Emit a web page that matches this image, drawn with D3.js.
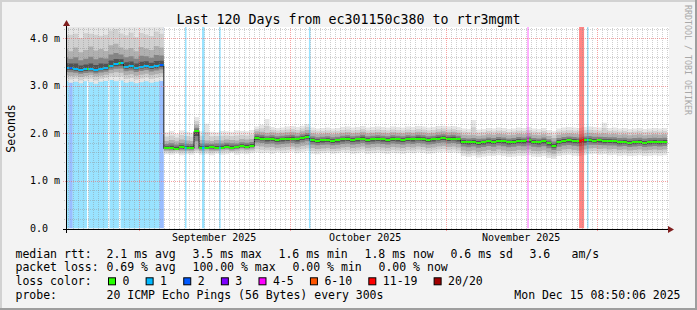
<!DOCTYPE html>
<html>
<head>
<meta charset="utf-8">
<script src="https://cdn.jsdelivr.net/npm/d3@7"></script>
<style>
  html, body { margin: 0; padding: 0; background: #f3f3f3; }
  svg { display: block; font-family: "DejaVu Sans Mono", monospace; }
</style>
</head>
<body>
<div id="chart"></div>
<script>
// time range of the graph
const rangeStart = '2025-08-17 08:50';
const rangeEnd = '2025-12-15 08:50';
const firstDay = '2025-08-17 00:00';

// one value per day (ms)
const median = [
  3.37, 3.38, 3.35, 3.33, 3.34, 3.35, 3.33, 3.36, 3.37, 3.42,
  3.45, 3.47, 3.40, 3.41, 3.38, 3.40, 3.42, 3.39, 3.41, 3.43,
  1.69, 1.70, 1.68, 1.71, 1.69, 1.70, 2.04, 1.69, 1.70, 1.71,
  1.69, 1.70, 1.72, 1.70, 1.71, 1.73, 1.72, 1.74, 1.90, 1.89,
  1.87, 1.88, 1.86, 1.87, 1.88, 1.89, 1.87, 1.90, 1.93, 1.86,
  1.84, 1.85, 1.86, 1.84, 1.85, 1.87, 1.88, 1.86, 1.87, 1.89,
  1.86, 1.87, 1.88, 1.87, 1.86, 1.88, 1.87, 1.86, 1.88, 1.87,
  1.89, 1.88, 1.86, 1.87, 1.89, 1.90, 1.88, 1.89, 1.87, 1.82,
  1.81, 1.82, 1.80, 1.81, 1.83, 1.82, 1.84, 1.83, 1.81, 1.82,
  1.84, 1.83, 1.85, 1.82, 1.81, 1.83, 1.79, 1.74, 1.82, 1.84,
  1.85, 1.84, 1.83, 1.85, 1.86, 1.84, 1.85, 1.83, 1.84, 1.83,
  1.81, 1.82, 1.80, 1.81, 1.82, 1.80, 1.81, 1.82, 1.81, 1.82
];
const smokeMin = [
  3.10, 3.06, 3.08, 3.05, 3.09, 3.07, 3.04, 3.08, 3.10, 3.12,
  3.09, 3.11, 3.06, 3.08, 3.05, 3.07, 3.09, 3.06, 3.08, 3.10,
  1.56, 1.55, 1.57, 1.54, 1.56, 1.55, 1.58, 1.55, 1.56, 1.54,
  1.57, 1.55, 1.56, 1.58, 1.55, 1.57, 1.56, 1.58, 1.60, 1.58,
  1.59, 1.57, 1.60, 1.58, 1.59, 1.61, 1.58, 1.60, 1.62, 1.57,
  1.56, 1.58, 1.59, 1.57, 1.58, 1.60, 1.59, 1.57, 1.58, 1.60,
  1.57, 1.58, 1.59, 1.58, 1.57, 1.59, 1.58, 1.57, 1.59, 1.58,
  1.60, 1.59, 1.57, 1.58, 1.60, 1.61, 1.59, 1.60, 1.58, 1.52,
  1.50, 1.53, 1.49, 1.51, 1.53, 1.52, 1.54, 1.52, 1.50, 1.51,
  1.53, 1.52, 1.54, 1.51, 1.50, 1.52, 1.48, 1.46, 1.52, 1.54,
  1.55, 1.53, 1.52, 1.54, 1.56, 1.57, 1.55, 1.56, 1.54, 1.55,
  1.53, 1.54, 1.52, 1.53, 1.54, 1.52, 1.53, 1.54, 1.53, 1.54
];
const smokeLo = [
  3.22, 3.20, 3.21, 3.18, 3.20, 3.22, 3.19, 3.21, 3.23, 3.26,
  3.28, 3.27, 3.22, 3.24, 3.21, 3.23, 3.25, 3.22, 3.24, 3.26,
  1.63, 1.62, 1.64, 1.62, 1.63, 1.62, 1.66, 1.63, 1.64, 1.62,
  1.63, 1.64, 1.65, 1.63, 1.64, 1.66, 1.65, 1.66, 1.73, 1.72,
  1.70, 1.71, 1.69, 1.70, 1.71, 1.72, 1.70, 1.73, 1.75, 1.69,
  1.67, 1.68, 1.69, 1.67, 1.68, 1.70, 1.71, 1.69, 1.70, 1.72,
  1.69, 1.70, 1.71, 1.70, 1.69, 1.71, 1.70, 1.69, 1.71, 1.70,
  1.72, 1.71, 1.69, 1.70, 1.72, 1.73, 1.71, 1.72, 1.70, 1.64,
  1.62, 1.64, 1.61, 1.63, 1.65, 1.63, 1.66, 1.64, 1.62, 1.63,
  1.65, 1.64, 1.66, 1.63, 1.62, 1.64, 1.60, 1.57, 1.63, 1.66,
  1.67, 1.65, 1.64, 1.66, 1.68, 1.69, 1.67, 1.68, 1.66, 1.67,
  1.65, 1.66, 1.64, 1.65, 1.66, 1.64, 1.65, 1.66, 1.65, 1.66
];
const smokeHi = [
  3.78, 3.72, 3.80, 3.70, 3.75, 3.82, 3.74, 3.77, 3.73, 3.85,
  3.88, 3.80, 3.76, 3.79, 3.72, 3.81, 3.78, 3.75, 3.83, 3.80,
  1.84, 1.86, 1.83, 1.87, 1.85, 1.84, 2.18, 1.86, 1.85, 1.84,
  1.86, 1.85, 1.87, 1.86, 1.85, 1.88, 1.87, 1.88, 2.04, 2.03,
  2.01, 2.02, 2.00, 2.01, 2.02, 2.03, 2.01, 2.04, 2.07, 2.00,
  1.98, 1.99, 2.00, 1.98, 1.99, 2.01, 2.02, 2.00, 2.01, 2.03,
  2.00, 2.01, 2.02, 2.01, 2.00, 2.02, 2.01, 2.00, 2.02, 2.01,
  2.03, 2.02, 2.00, 2.01, 2.03, 2.04, 2.02, 2.03, 2.01, 1.97,
  1.96, 1.97, 1.95, 1.96, 1.98, 1.97, 1.99, 1.98, 1.96, 1.97,
  1.99, 1.98, 2.00, 1.97, 1.96, 1.98, 1.94, 1.90, 1.97, 1.99,
  2.00, 1.99, 1.98, 2.00, 2.01, 2.00, 1.99, 2.00, 1.98, 1.99,
  1.97, 1.98, 1.96, 1.97, 1.98, 1.96, 1.97, 1.98, 1.97, 1.98
];
const smokeMax = [
  4.35, 4.42, 4.38, 4.30, 4.45, 4.36, 4.40, 4.33, 4.41, 4.47,
  4.50, 4.39, 4.36, 4.43, 4.31, 4.40, 4.37, 4.34, 4.44, 4.38,
  2.02, 2.05, 1.99, 2.06, 2.03, 2.01, 2.34, 2.04, 2.20, 2.03,
  2.02, 2.05, 2.04, 2.03, 2.06, 2.05, 2.04, 2.07, 2.14, 2.18,
  2.30, 2.13, 2.11, 2.12, 2.14, 2.15, 2.13, 2.16, 2.19, 2.12,
  2.10, 2.11, 2.12, 2.10, 2.11, 2.13, 2.14, 2.12, 2.13, 2.15,
  2.12, 2.13, 2.14, 2.13, 2.12, 2.14, 2.13, 2.12, 2.14, 2.13,
  2.15, 2.14, 2.12, 2.13, 2.15, 2.16, 2.14, 2.15, 2.13, 2.10,
  2.09, 2.28, 2.08, 2.09, 2.11, 2.10, 2.12, 2.11, 2.09, 2.10,
  2.12, 2.11, 2.13, 2.10, 2.09, 2.11, 2.07, 2.04, 2.10, 2.12,
  2.13, 2.12, 2.11, 2.13, 2.14, 2.13, 2.12, 2.22, 2.11, 2.12,
  2.10, 2.11, 2.09, 2.10, 2.11, 2.09, 2.10, 2.11, 2.10, 2.11
];

// packet loss periods (pings lost of 20)
const lossStart = [
  '2025-08-17 00:00', '2025-08-18 05:00', '2025-08-18 21:00', '2025-08-22 01:00',
  '2025-08-26 05:00', '2025-08-28 10:00', '2025-09-05 03:00', '2025-09-10 05:00',
  '2025-09-13 14:00', '2025-09-17 00:00', '2025-10-04 20:00', '2025-11-17 05:00',
  '2025-11-27 12:00', '2025-11-29 02:00'
];
const lossEnd = [
  '2025-08-18 05:00', '2025-08-18 21:00', '2025-08-21 18:00', '2025-08-25 22:00',
  '2025-08-28 02:00', '2025-09-05 03:00', '2025-09-06 00:00', '2025-09-10 12:00',
  '2025-09-14 02:00', '2025-09-17 07:00', '2025-10-05 03:00', '2025-11-17 12:00',
  '2025-11-28 12:00', '2025-11-29 09:00'
];
const lossCount = [1, 2, 1, 1, 1, 1, 2, 1, 1, 1, 1, 4, 12, 1];
// no smoke recorded during these periods
const lossNoData = [false, false, false, false, false, false, false, true, true, true, true, true, true, true];

const lossLabels = ['0', '1', '2', '3', '4-5', '6-10', '11-19', '20/20'];
const lossColors = ['#26ff00', '#00b8ff', '#0059ff', '#7e00ff', '#ff00ff', '#ff5500', '#ff0000', '#a10000'];
const lossBins = [1, 2, 3, 4, 6, 11, 20];

const yTickValues = [0, 1, 2, 3, 4];
const yTickLabels = ['0.0', '1.0 m', '2.0 m', '3.0 m', '4.0 m'];

const title = 'Last 120 Days from ec301150c380 to rtr3mgmt';
const rttStats = ['2.1 ms avg', '3.5 ms max', '1.6 ms min', '1.8 ms now', '0.6 ms sd', '3.6', 'am/s'];
const lossStats = ['0.69 % avg', '100.00 % max', '0.00 % min', '0.00 % now'];
const probeText = '20 ICMP Echo Pings (56 Bytes) every 300s';
const stampText = 'Mon Dec 15 08:50:06 2025';

/**
 * smokeping style latency chart
 */
class SmokeChart {
  defaultOption() {
    return {
      width: 697,
      height: 310,
      xRange: [65, 669],
      yRange: [228.5, 28.5],
      yMax: 4.2,
      plot: { left: 66.5, right: 669, top: 27, bottom: 228.5 },
      lossOpacity: 0.4,
      smokeColors: ['#e6e6e6', '#d0d0d0', '#b0b0b0', '#848484', '#525252'],
      legendFont: '11.5px',
      axisFont: '10px',
      rttX: [106.5, 192.5, 278.5, 364.5, 450.5, 529.5, 571.5],
      lossX: [106.5, 192.5, 292.5, 378.5],
      lines: [257.5, 271.4, 285.3, 299.2]
    };
  }

  constructor(selector, option) {
    this.config = Object.assign(this.defaultOption(), option || {});
    const { width, height } = this.config;
    this.svg = d3.select(selector).append('svg').attr('width', width).attr('height', height);
    this.defs = this.svg.append('defs');

    const parse = d3.timeParse('%Y-%m-%d %H:%M');
    this.x = d3.scaleTime().domain([parse(rangeStart), parse(rangeEnd)]).range(this.config.xRange);
    this.y = d3.scaleLinear().domain([0, this.config.yMax]).range(this.config.yRange);
    this.lossColor = d3.scaleThreshold().domain(lossBins).range(lossColors);

    const day0 = parse(firstDay);
    this.series = median.map((m, i) => ({
      t: d3.timeDay.offset(day0, i), med: m,
      min: smokeMin[i], lo: smokeLo[i], hi: smokeHi[i], max: smokeMax[i]
    }));
    // closing point so the last day gets its full width
    const last = this.series[this.series.length - 1];
    this.stepped = this.series.concat([Object.assign({}, last, { t: d3.timeDay.offset(day0, this.series.length) })]);

    this.losses = lossStart.map((s, i) => ({
      from: parse(s), to: parse(lossEnd[i]), count: lossCount[i], noData: lossNoData[i]
    }));
  }

  draw() {
    this.drawFrame();
    const p = this.config.plot;
    this.defs.append('clipPath').attr('id', 'plotClip').append('rect')
      .attr('x', p.left + 0.5).attr('y', p.top).attr('width', p.right - p.left - 0.5).attr('height', p.bottom - p.top);
    this.plotG = this.svg.append('g').attr('clip-path', 'url(#plotClip)');

    this.drawLoss(this.losses.filter(d => !d.noData));
    this.drawSmoke();
    this.drawLoss(this.losses.filter(d => d.noData));
    this.drawGrid();
    this.drawMedian();
    this.drawAxes();
    this.drawLegend();
  }

  drawFrame() {
    const { width, height, plot } = this.config;
    this.svg.append('rect').attr('width', width).attr('height', height).attr('fill', '#f3f3f3');
    this.svg.append('rect').attr('width', width).attr('height', 2).attr('fill', '#d2d2d2');
    this.svg.append('rect').attr('width', 2).attr('height', height).attr('fill', '#d2d2d2');
    this.svg.append('rect').attr('y', height - 2).attr('width', width).attr('height', 2).attr('fill', '#9e9e9e');
    this.svg.append('rect').attr('x', width - 2).attr('width', 2).attr('height', height).attr('fill', '#9e9e9e');
    // canvas
    this.svg.append('rect').attr('x', plot.left - 0.5).attr('y', plot.top)
      .attr('width', plot.right - plot.left + 0.5).attr('height', plot.bottom - plot.top).attr('fill', '#fff');
  }

  /**
   * loss background bars
   */
  drawLoss(list) {
    const { x, lossColor } = this;
    const { plot, lossOpacity } = this.config;
    this.plotG.append('g').selectAll('rect').data(list).join('rect')
      .attr('x', d => x(d.from))
      .attr('width', d => Math.max(1.5, x(d.to) - x(d.from)))
      .attr('y', plot.top).attr('height', plot.bottom - plot.top)
      .attr('fill', d => lossColor(d.count))
      .attr('fill-opacity', d => d.count > 10 ? 0.48 : lossOpacity);
  }

  /**
   * smoke: nested bands from the outer range down to the median
   */
  drawSmoke() {
    const { x, y } = this;
    const mix = (a, b, f) => a + (b - a) * f;
    const layers = [
      [d => d.min, d => d.max],
      [d => mix(d.min, d.lo, 0.5), d => mix(d.max, d.hi, 0.5)],
      [d => d.lo, d => d.hi],
      [d => mix(d.lo, d.med, 0.45), d => mix(d.hi, d.med, 0.45)],
      [d => mix(d.lo, d.med, 0.75), d => mix(d.hi, d.med, 0.75)]
    ];
    const g = this.plotG.append('g');
    layers.forEach((l, i) => {
      const area = d3.area().x(d => x(d.t)).y0(d => y(l[0](d))).y1(d => y(l[1](d))).curve(d3.curveStepAfter);
      g.append('path').attr('d', area(this.stepped)).attr('fill', this.config.smokeColors[i]);
    });
  }

  drawGrid() {
    const { x, y } = this;
    const { plot } = this.config;
    const g = this.svg.append('g').attr('shape-rendering', 'crispEdges').attr('stroke-dasharray', '1,1');
    const minorColor = 'rgba(140,140,140,0.42)';
    const majorColor = 'rgba(240,100,100,0.6)';
    const px = v => Math.round(v) + 0.5;

    const minorY = y.ticks(21).filter(v => v > 0 && Math.abs(v - Math.round(v)) > 1e-6);
    g.selectAll('.hMinor').data(minorY).join('line').attr('class', 'hMinor')
      .attr('x1', plot.left - 3).attr('x2', plot.right)
      .attr('y1', d => px(y(d))).attr('y2', d => px(y(d))).attr('stroke', minorColor);
    g.selectAll('.hMajor').data(yTickValues.filter(v => v > 0)).join('line').attr('class', 'hMajor')
      .attr('x1', plot.left - 4).attr('x2', plot.right)
      .attr('y1', d => px(y(d))).attr('y2', d => px(y(d))).attr('stroke', majorColor);

    const [t0, t1] = x.domain();
    const days = d3.timeDay.range(t0, t1).filter(d => d.getDate() !== 1);
    g.selectAll('.vMinor').data(days).join('line').attr('class', 'vMinor')
      .attr('x1', d => px(x(d))).attr('x2', d => px(x(d)))
      .attr('y1', plot.top + 1).attr('y2', plot.bottom).attr('stroke', minorColor);
    g.selectAll('.vMajor').data(d3.timeMonth.range(t0, t1)).join('line').attr('class', 'vMajor')
      .attr('x1', d => px(x(d))).attr('x2', d => px(x(d)))
      .attr('y1', plot.top + 1).attr('y2', plot.bottom + 3).attr('stroke', majorColor);
  }

  /**
   * median: thin dark line with a thicker line coloured by loss
   */
  drawMedian() {
    const { x, y, stepped, series, lossColor } = this;
    const yr = v => Math.round(y(v));
    const line = d3.line().x(d => x(d.t)).y(d => yr(d.med) + 0.5).curve(d3.curveStepAfter);
    this.plotG.append('path').attr('d', line(stepped))
      .attr('fill', 'none').attr('stroke', '#202020').attr('stroke-width', 1);

    const segs = series.map((d, i) => `M${x(d.t)},${yr(d.med)}H${x(stepped[i + 1].t)}`).join('');
    this.plotG.append('path').attr('d', segs)
      .attr('fill', 'none').attr('stroke', lossColor(0)).attr('stroke-width', 2);

    this.losses.forEach((d, i) => {
      const id = 'lossClip' + i;
      this.defs.append('clipPath').attr('id', id).append('rect')
        .attr('x', x(d.from)).attr('width', Math.max(1.5, x(d.to) - x(d.from)))
        .attr('y', 0).attr('height', this.config.height);
      this.plotG.append('g').attr('clip-path', `url(#${id})`).append('path').attr('d', segs)
        .attr('fill', 'none').attr('stroke', lossColor(d.count)).attr('stroke-width', 2);
    });
  }

  drawAxes() {
    const { x, y } = this;
    const { plot, axisFont, width } = this.config;
    const g = this.svg.append('g');
    const axisY = Math.round(y(0)) + 0.5;

    g.append('line').attr('x1', plot.left - 4).attr('x2', plot.right + 1)
      .attr('y1', axisY).attr('y2', axisY).attr('stroke', '#000').attr('shape-rendering', 'crispEdges');
    g.append('line').attr('x1', plot.left).attr('x2', plot.left)
      .attr('y1', axisY + 3).attr('y2', plot.top - 2).attr('stroke', '#000').attr('shape-rendering', 'crispEdges');
    // arrows
    g.append('path').attr('fill', '#801f1f')
      .attr('d', `M${plot.right + 5},${axisY}L${plot.right - 1},${axisY - 3.5}L${plot.right - 1},${axisY + 3.5}Z`);
    g.append('path').attr('fill', '#801f1f')
      .attr('d', `M${plot.left},${plot.top - 7}L${plot.left - 3.5},${plot.top - 1}L${plot.left + 3.5},${plot.top - 1}Z`);

    // y labels
    g.selectAll('.yLabel').data(yTickValues).join('text').attr('class', 'yLabel')
      .attr('x', 30).attr('y', d => y(d)).attr('dy', '0.36em')
      .attr('font-size', axisFont).attr('fill', '#000')
      .text((d, i) => yTickLabels[i]);

    // month labels sit in the middle of the month
    const [t0, t1] = x.domain();
    const months = d3.timeMonth.range(d3.timeMonth.floor(t0), t1)
      .map(m => d3.timeDay.offset(m, 15))
      .filter(d => d >= t0 && d <= t1);
    g.selectAll('.xLabel').data(months).join('text').attr('class', 'xLabel')
      .attr('x', d => x(d)).attr('y', 241).attr('text-anchor', 'middle')
      .attr('font-size', axisFont).attr('fill', '#000')
      .text(d => d3.timeFormat('%B %Y')(d3.timeMonth.floor(d)));

    g.append('text').attr('transform', 'translate(14.5,128.5) rotate(-90)')
      .attr('text-anchor', 'middle').attr('font-size', '11.5px').text('Seconds');

    g.append('text').attr('x', width / 2).attr('y', 24).attr('text-anchor', 'middle')
      .attr('font-size', '13.3px').text(title);

    g.append('text').attr('transform', 'translate(684.5,5) rotate(90)')
      .attr('font-size', '8.3px').attr('fill', '#a8a8a8').text('RRDTOOL / TOBI OETIKER');
  }

  drawLegend() {
    const { legendFont, rttX, lossX, lines } = this.config;
    const g = this.svg.append('g').attr('font-size', legendFont).attr('fill', '#000');
    const put = (txt, px, py, anchor) => g.append('text').attr('x', px).attr('y', py)
      .attr('text-anchor', anchor || 'start').style('white-space', 'pre').text(txt);

    put('median rtt:', 15.5, lines[0]);
    rttStats.forEach((s, i) => put(s, rttX[i], lines[0]));
    put('packet loss:', 15.5, lines[1]);
    lossStats.forEach((s, i) => put(s, lossX[i], lines[1]));

    put('loss color:', 15.5, lines[2]);
    let cx = 108;
    lossLabels.forEach((lab, i) => {
      g.append('rect').attr('x', cx + 0.5).attr('y', lines[2] - 7.5).attr('width', 7).attr('height', 7)
        .attr('fill', lossColors[i]).attr('stroke', '#000').attr('stroke-width', 1);
      put(lab, cx + 14.5, lines[2]);
      cx += 15 + lab.length * 6.92 + 15.7;
    });

    put('probe:', 15.5, lines[3]);
    put(probeText, 106.5, lines[3]);
    put(stampText, 680.5, lines[3], 'end');
  }
}

new SmokeChart('#chart').draw();
</script>
</body>
</html>
